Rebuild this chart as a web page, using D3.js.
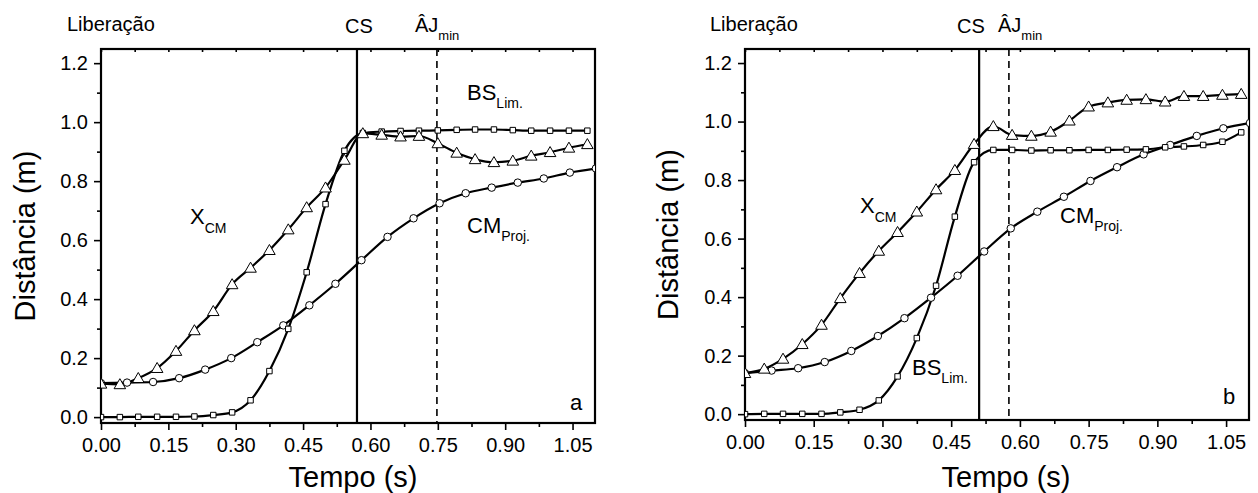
<!DOCTYPE html>
<html>
<head>
<meta charset="utf-8">
<script src="https://cdn.jsdelivr.net/npm/d3@7"></script>
<style>
  body { margin: 0; background: #fff; }
  text { font-family: Arial, "Liberation Sans", sans-serif; fill: #000; }
</style>
</head>
<body>
<div id="chart"></div>
<script>
// time grids (s)
var tTri = [0.000,0.042,0.083,0.125,0.167,0.208,0.250,0.292,0.333,0.375,0.417,0.458,0.500,0.542,0.583,0.625,0.667,0.708,0.750,0.792,0.833,0.875,0.917,0.958,1.000,1.042,1.083];
var tCirc = [0.000,0.058,0.116,0.174,0.232,0.290,0.348,0.406,0.464,0.522,0.580,0.638,0.696,0.754,0.812,0.870,0.928,0.986,1.044,1.102];

// panel a
var xcmA = [0.113,0.111,0.132,0.166,0.224,0.294,0.359,0.450,0.506,0.566,0.636,0.711,0.778,0.872,0.962,0.957,0.951,0.953,0.928,0.896,0.874,0.864,0.869,0.886,0.898,0.913,0.925];
var bsA = [0.000,0.000,0.001,0.001,0.001,0.002,0.007,0.016,0.057,0.156,0.299,0.491,0.722,0.903,0.963,0.968,0.970,0.971,0.972,0.974,0.975,0.975,0.973,0.971,0.971,0.971,0.971];
var cmA = [0.115,0.117,0.119,0.132,0.161,0.200,0.254,0.311,0.379,0.452,0.532,0.611,0.674,0.725,0.759,0.778,0.795,0.809,0.829,0.843];
var csA = 0.570, ajA = 0.748;

// panel b
var xcmB = [0.140,0.155,0.189,0.239,0.305,0.396,0.482,0.558,0.622,0.692,0.768,0.834,0.923,0.984,0.954,0.951,0.965,1.003,1.051,1.065,1.074,1.076,1.068,1.087,1.087,1.091,1.094];
var bsB = [0.000,0.001,0.001,0.001,0.001,0.006,0.015,0.047,0.129,0.260,0.439,0.675,0.861,0.903,0.903,0.901,0.902,0.902,0.903,0.903,0.904,0.905,0.912,0.915,0.920,0.931,0.963];
var cmB = [0.140,0.149,0.157,0.178,0.216,0.267,0.328,0.398,0.473,0.556,0.635,0.692,0.743,0.797,0.844,0.888,0.920,0.951,0.977,0.995];
var csB = 0.511, ajB = 0.576;

// ticks
var xTicks = [0, 0.15, 0.30, 0.45, 0.60, 0.75, 0.90, 1.05];
var xMinor = [0.075, 0.225, 0.375, 0.525, 0.675, 0.825, 0.975];
var yTicks = [0, 0.2, 0.4, 0.6, 0.8, 1.0, 1.2];
var yMinor = [0.1, 0.3, 0.5, 0.7, 0.9, 1.1];

var svg = d3.select("#chart").append("svg")
  .attr("width", 1258).attr("height", 493);

function label(g, x, y, main, sub, size, subSize, dy) {
  var t = g.append("text").attr("x", x).attr("y", y).style("font-size", size + "px").text(main);
  if (sub) t.append("tspan").attr("dy", dy).style("font-size", subSize + "px").text(sub);
  return t;
}

function panel(p) {
  var x = d3.scaleLinear().domain([0, 1.1]).range([0, p.w]);
  var y = d3.scaleLinear().domain([-0.02, 1.248]).range([p.h, 0]);
  var g = svg.append("g").attr("transform", "translate(" + p.left + "," + p.top + ")");

  g.append("clipPath").attr("id", "clip" + p.id)
    .append("rect").attr("width", p.w).attr("height", p.h);

  // axes
  var xa = g.append("g").attr("transform", "translate(0," + p.h + ")")
    .call(d3.axisBottom(x).tickValues(xTicks).tickFormat(d3.format(".2f")).tickSizeInner(7).tickSizeOuter(0).tickPadding(8));
  g.append("g").attr("transform", "translate(0," + p.h + ")")
    .call(d3.axisBottom(x).tickValues(xMinor).tickFormat("").tickSizeInner(4).tickSizeOuter(0));
  g.append("g").call(d3.axisTop(x).tickValues(xTicks.concat(xMinor)).tickFormat("").tickSizeInner(-3).tickSizeOuter(0));
  g.append("g")
    .call(d3.axisLeft(y).tickValues(yTicks).tickFormat(d3.format(".1f")).tickSizeInner(7).tickSizeOuter(0).tickPadding(6));
  g.append("g").call(d3.axisLeft(y).tickValues(yMinor).tickFormat("").tickSizeInner(4).tickSizeOuter(0));
  g.selectAll(".domain").remove();
  g.selectAll(".tick line").attr("stroke", "#000").attr("stroke-width", 1.6);
  g.selectAll(".tick text").style("font-size", "20px").style("font-family", "Arial, 'Liberation Sans', sans-serif");

  g.append("rect").attr("width", p.w).attr("height", p.h)
    .attr("fill", "none").attr("stroke", "#000").attr("stroke-width", 2.2);

  // event lines
  g.append("line").attr("x1", x(p.cs)).attr("x2", x(p.cs)).attr("y1", 0).attr("y2", p.h)
    .attr("stroke", "#000").attr("stroke-width", 2.2);
  g.append("line").attr("x1", x(p.aj)).attr("x2", x(p.aj)).attr("y1", 0).attr("y2", p.h)
    .attr("stroke", "#000").attr("stroke-width", 1.6).attr("stroke-dasharray", "7,5");

  var plot = g.append("g").attr("clip-path", "url(#clip" + p.id + ")");
  var line = d3.line().x(function(d){ return x(d[0]); }).y(function(d){ return y(d[1]); })
    .curve(d3.curveMonotoneX);

  var series = [
    {t: tCirc, v: p.cm, shape: "circle"},
    {t: tTri, v: p.bs, shape: "square"},
    {t: tTri, v: p.xcm, shape: "triangle"}
  ];
  series.forEach(function(s) {
    var pts = s.t.map(function(t, i){ return [t, s.v[i]]; });
    plot.append("path").datum(pts).attr("d", line)
      .attr("fill", "none").attr("stroke", "#000").attr("stroke-width", 2.2);
  });
  var sym = {
    circle: d3.symbol().type(d3.symbolCircle).size(44),
    square: d3.symbol().type(d3.symbolSquare).size(30),
    triangle: d3.symbol().type(d3.symbolTriangle).size(58)
  };
  series.forEach(function(s) {
    var pts = s.t.map(function(t, i){ return [t, s.v[i]]; });
    plot.selectAll(null).data(pts).enter().append("path")
      .attr("d", sym[s.shape])
      .attr("transform", function(d){ return "translate(" + x(d[0]) + "," + (y(d[1]) + (s.shape === "triangle" ? 1 : 0)) + ")"; })
      .attr("fill", "#fff").attr("stroke", "#000").attr("stroke-width", 1);
  });

  // titles
  svg.append("text").attr("transform", "translate(" + p.yTitleX + "," + (p.top + p.h / 2) + ") rotate(-90)")
    .attr("text-anchor", "middle").style("font-size", "29px").text("Distância (m)");
  svg.append("text").attr("x", p.left + p.xTitleDx).attr("y", 487)
    .attr("text-anchor", "middle").style("font-size", "29px").text("Tempo (s)");

  // annotations
  var L = p.labels;
  label(svg, L.lib[0], L.lib[1], "Liberação", null, 20);
  label(svg, L.cs[0], L.cs[1], "CS", null, 20);
  label(svg, L.aj[0], L.aj[1], "ÂJ", "min", 20, 13, 8);
  label(svg, L.x[0], L.x[1], "X", "CM", 22, 14, 9);
  label(svg, L.bs[0], L.bs[1], "BS", "Lim.", 22, 14, 8);
  label(svg, L.cm[0], L.cm[1], "CM", "Proj.", 22, 14, 8);
  label(svg, L.id[0], L.id[1], p.id, null, 22);
}

panel({
  id: "a", left: 101, top: 49, w: 494, h: 374,
  xcm: xcmA, bs: bsA, cm: cmA, cs: csA, aj: ajA,
  yTitleX: 35, xTitleDx: 252,
  labels: {lib: [67, 31], cs: [345, 33], aj: [415, 32], x: [190, 224], bs: [467, 100], cm: [467, 233], id: [570, 410]}
});
panel({
  id: "b", left: 745, top: 49, w: 504, h: 371,
  xcm: xcmB, bs: bsB, cm: cmB, cs: csB, aj: ajB,
  yTitleX: 678, xTitleDx: 261,
  labels: {lib: [710, 31], cs: [957, 33], aj: [998, 32], x: [860, 213], bs: [912, 375], cm: [1060, 223], id: [1223, 404]}
});
</script>
</body>
</html>
